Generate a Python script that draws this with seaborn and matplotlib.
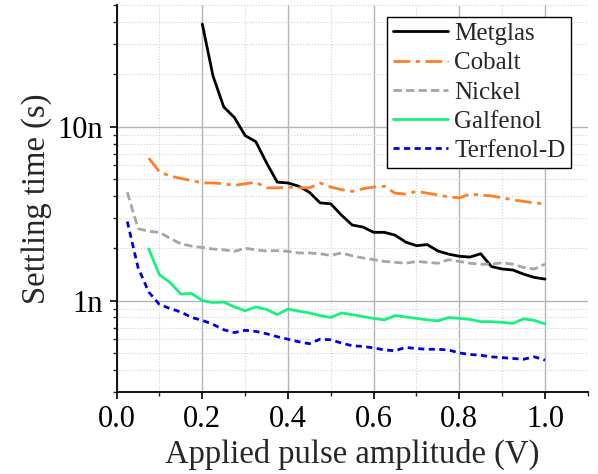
import numpy as np
import pandas as pd
import matplotlib as mpl
mpl.use("Agg")
import matplotlib.pyplot as plt
import matplotlib.ticker as mticker
import seaborn as sns

# settling times in ns, sampled every 0.025 V
metglas_v = np.arange(8, 41) * 0.025
metglas = [39, 19.6, 13.0, 11.3, 8.9, 8.2, 6.2, 4.8, 4.75, 4.55, 4.2, 3.65, 3.6, 3.1,
           2.72, 2.65, 2.47, 2.47, 2.38, 2.17, 2.07, 2.1, 1.93, 1.85, 1.8, 1.78, 1.86,
           1.57, 1.52, 1.50, 1.42, 1.36, 1.33]

cobalt_v = np.arange(3, 41) * 0.025
cobalt = [6.6, 5.5, 5.2, 5.05, 4.9, 4.75, 4.75, 4.7, 4.6, 4.7, 4.8, 4.45, 4.45, 4.5,
          4.45, 4.45, 4.75, 4.5, 4.35, 4.25, 4.4, 4.5, 4.55, 4.15, 4.1, 4.25, 4.15,
          4.05, 3.95, 3.9, 4.1, 4.05, 4.0, 3.9, 3.8, 3.72, 3.65, 3.6]

nickel_v = np.arange(1, 41) * 0.025
nickel = [4.2, 2.6, 2.5, 2.47, 2.28, 2.12, 2.06, 2.02, 1.98, 1.96, 1.92, 2.0, 1.96,
          1.93, 1.94, 1.92, 1.88, 1.88, 1.86, 1.82, 1.88, 1.81, 1.76, 1.72, 1.68, 1.66,
          1.64, 1.68, 1.66, 1.64, 1.72, 1.68, 1.64, 1.62, 1.62, 1.65, 1.62, 1.55, 1.52,
          1.62]

galfenol_v = np.arange(3, 41) * 0.025
galfenol = [1.98, 1.41, 1.27, 1.09, 1.10, 1.0, 0.975, 0.98, 0.92, 0.875, 0.92, 0.89,
            0.83, 0.895, 0.87, 0.85, 0.82, 0.80, 0.85, 0.83, 0.81, 0.79, 0.775, 0.82,
            0.805, 0.79, 0.775, 0.765, 0.80, 0.79, 0.78, 0.757, 0.757, 0.75, 0.74,
            0.785, 0.77, 0.735]

terfenol_v = np.arange(1, 41) * 0.025
terfenol = [2.85, 1.55, 1.12, 0.95, 0.9, 0.86, 0.80, 0.77, 0.73, 0.68, 0.655, 0.675,
            0.665, 0.645, 0.62, 0.60, 0.58, 0.565, 0.60, 0.595, 0.57, 0.55, 0.545,
            0.535, 0.52, 0.515, 0.538, 0.53, 0.525, 0.525, 0.52, 0.50, 0.49, 0.485,
            0.475, 0.47, 0.465, 0.46, 0.475, 0.455]

materials = ["Metglas", "Cobalt", "Nickel", "Galfenol", "Terfenol-D"]
colors = ["#000000", "#FF7F27", "#A6A6A6", "#17F27E", "#0000E6"]
dashes = ["", (6, 2, 1.5, 2), (3, 1.5), "", (2.2, 1.6)]

frames = []
for name, v, t in [("Metglas", metglas_v, metglas), ("Cobalt", cobalt_v, cobalt),
                   ("Nickel", nickel_v, nickel), ("Galfenol", galfenol_v, galfenol),
                   ("Terfenol-D", terfenol_v, terfenol)]:
    frames.append(pd.DataFrame({"amplitude": v, "settling": np.array(t) * 1e-9,
                                "material": name}))
df = pd.concat(frames, ignore_index=True)

sns.set_theme(style="ticks")
plt.rcParams["font.family"] = ["Liberation Serif", "DejaVu Serif"]

fig = plt.figure(figsize=(5.98, 4.74), dpi=100)
ax = fig.add_axes([0.195, 0.174, 0.788, 0.815])

sns.lineplot(data=df, x="amplitude", y="settling", hue="material", style="material",
             hue_order=materials, style_order=materials,
             palette=dict(zip(materials, colors)), dashes=dict(zip(materials, dashes)),
             linewidth=2.0, ax=ax, legend=True)

ax.set_yscale("log")
ax.set_xlim(0, 1.1)
ax.set_ylim(3e-10, 5e-8)

ax.xaxis.set_major_locator(mticker.MultipleLocator(0.2))
ax.xaxis.set_minor_locator(mticker.MultipleLocator(0.1))
ax.xaxis.set_major_formatter(mticker.FormatStrFormatter("%.1f"))
ax.yaxis.set_major_locator(mticker.LogLocator(base=10))
ax.yaxis.set_minor_locator(mticker.LogLocator(base=10, subs=np.arange(2, 10)))
ax.yaxis.set_major_formatter(mticker.FuncFormatter(
    lambda y, pos: {1e-9: "1n", 1e-8: "10n"}.get(round(y, 12), "")))
ax.yaxis.set_minor_formatter(mticker.NullFormatter())

ax.grid(which="major", color="#b4b4b4", linewidth=1.0, linestyle="-")
ax.grid(which="minor", color="#d2d2d2", linewidth=0.8, linestyle=":")
ax.set_axisbelow(True)

ax.tick_params(which="major", direction="out", length=5, width=1.2, labelsize=22,
               colors="black", pad=5)
ax.tick_params(which="minor", direction="out", length=3, width=1.0)
for s in ["left", "bottom"]:
    ax.spines[s].set_linewidth(1.3)
    ax.spines[s].set_color("black")
sns.despine(ax=ax)

ax.set_xlabel("Applied pulse amplitude (V)", fontsize=23.5, labelpad=3)
ax.set_ylabel("Settling time (s)", fontsize=23.5, labelpad=4)

handles, labels = ax.get_legend_handles_labels()
leg = ax.legend(handles, labels, loc="upper right", bbox_to_anchor=(0.964, 0.969),
                fontsize=18, frameon=True, fancybox=False, edgecolor="black",
                framealpha=1, handlelength=2.2, handletextpad=0.25, labelspacing=0.27,
                borderpad=0.22, borderaxespad=0)
leg.get_frame().set_linewidth(1.0)

fig.savefig("out.png", dpi=100)
